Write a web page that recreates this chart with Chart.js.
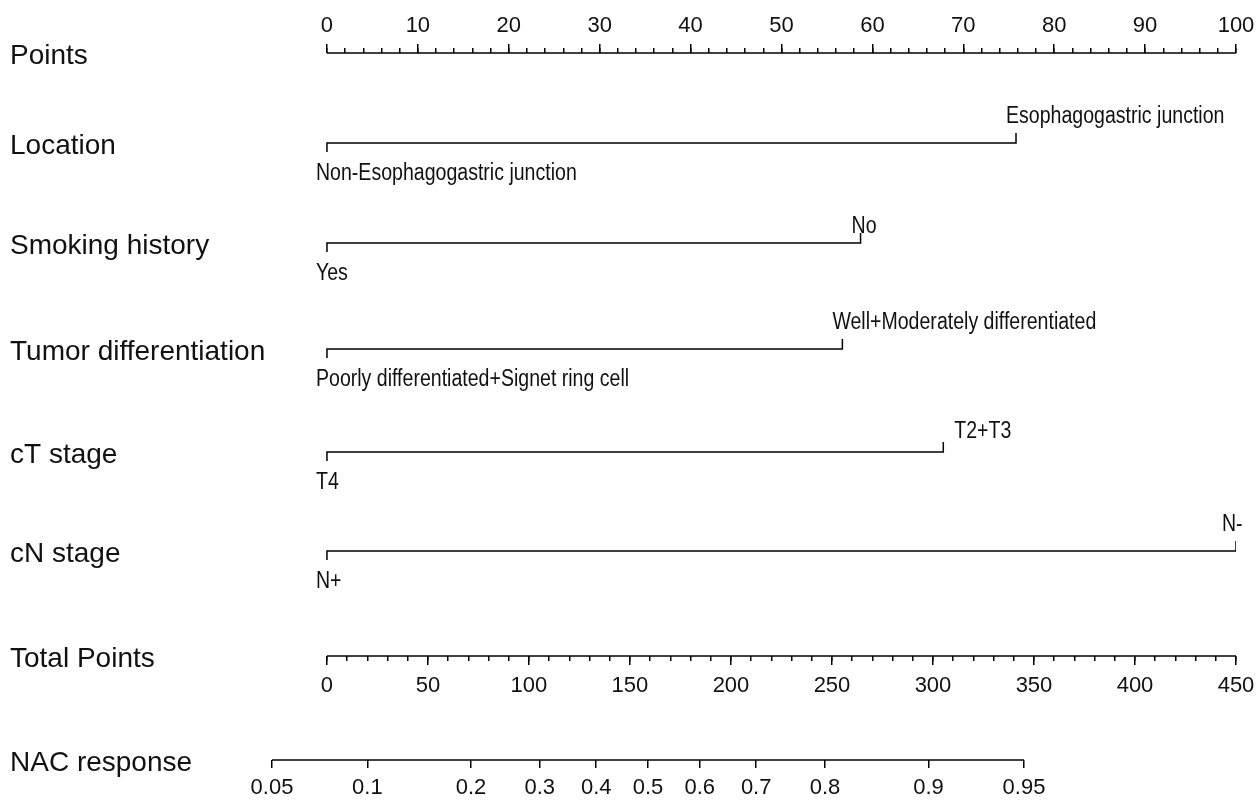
<!DOCTYPE html>
<html>
<head>
<meta charset="utf-8">
<title>Nomogram - NAC response</title>
<script src="https://cdn.jsdelivr.net/npm/chart.js@4.4.1/dist/chart.umd.min.js"></script>
<style>
  html, body { margin: 0; padding: 0; background: #fff; }
  #wrap { width: 1257px; height: 801px; position: relative; }
</style>
</head>
<body>
<div id="wrap"><canvas id="nomo"></canvas></div>
<script>
// axis tick values
const pointsTicks = [0, 10, 20, 30, 40, 50, 60, 70, 80, 90, 100];
const totalTicks = [0, 50, 100, 150, 200, 250, 300, 350, 400, 450];
const nacTicks = [0.05, 0.1, 0.2, 0.3, 0.4, 0.5, 0.6, 0.7, 0.8, 0.9, 0.95];
const pointsMinorStep = 2;
const totalMinorStep = 10;

// predictors and their points
const variables = ["Location", "Smoking history", "Tumor differentiation", "cT stage", "cN stage"];
const lowLevels = ["Non-Esophagogastric junction", "Yes", "Poorly differentiated+Signet ring cell", "T4", "N+"];
const highLevels = ["Esophagogastric junction", "No", "Well+Moderately differentiated", "T2+T3", "N-"];
const lowPoints = [0, 0, 0, 0, 0];
const highPoints = [75.8, 58.7, 56.7, 67.8, 100];

// total points -> linear predictor
const lpIntercept = -2.514;
const lpSlope = 0.01582;
const maxTotal = 450;

// layout
const rowNames = ["Points", ...variables, "Total Points", "NAC response"];
const rowY = [53, 143, 243, 349, 452, 551, 656, 760];
const leftTick = 9, rightTick = 10;
const lowNudge = [-11, 37];
const highNudge = [[-10, -20], [-9, -10], [-10, -20], [11, -14], [-14, -20]];
const FONT = '"Liberation Sans", Arial, sans-serif';

const logit = p => Math.log(p / (1 - p));
const lpOfTotal = t => lpIntercept + lpSlope * t;
const totalOfLp = lp => (lp - lpIntercept) / lpSlope;
const toPts = t => t * 100 / maxTotal;

const nacStart = toPts(totalOfLp(logit(nacTicks[0])));
const nacEnd = toPts(totalOfLp(logit(nacTicks[nacTicks.length - 1])));
const xMin = Math.min(0, nacStart);
const xMax = 100;

function steps(from, to, step) {
  const out = [];
  for (let v = from; v <= to + 1e-9; v += step) out.push(v);
  return out;
}

const lineStyle = { borderColor: "#000", borderWidth: 1.5, pointRadius: 0, fill: false, tension: 0 };

const datasets = [];
// Points axis line
datasets.push({ ...lineStyle, data: [{ x: pointsTicks[0], y: rowY[0] }, { x: pointsTicks[pointsTicks.length - 1], y: rowY[0] }] });
// predictor lines
variables.forEach((v, i) => {
  const r = rowY[i + 1];
  datasets.push({
    ...lineStyle,
    data: [
      { x: lowPoints[i], y: r + leftTick },
      { x: lowPoints[i], y: r },
      { x: highPoints[i], y: r },
      { x: highPoints[i], y: r - rightTick }
    ]
  });
});
// Total points axis line
datasets.push({ ...lineStyle, data: [{ x: toPts(totalTicks[0]), y: rowY[6] }, { x: toPts(totalTicks[totalTicks.length - 1]), y: rowY[6] }] });
// NAC response axis line
datasets.push({ ...lineStyle, data: [{ x: nacStart, y: rowY[7] }, { x: nacEnd, y: rowY[7] }] });

// one positioned x axis drawing tick marks (and labels) for a nomogram row
function rowAxis(row, min, max, values, tickLength, padding, labels) {
  return {
    type: "linear",
    axis: "x",
    position: { y: rowY[row] },
    min: min,
    max: max,
    bounds: "data",
    afterBuildTicks: s => { s.ticks = values.map(v => ({ value: v })); },
    afterFit: s => { s.paddingLeft = 0; s.paddingRight = 0; },
    border: { display: false },
    grid: { drawOnChartArea: false, drawTicks: true, tickLength: tickLength, color: "#000", lineWidth: 1.5 },
    ticks: {
      display: !!labels,
      autoSkip: false,
      maxRotation: 0,
      minRotation: 0,
      padding: padding,
      color: "#111",
      font: { family: FONT, size: 22, lineHeight: 1 },
      callback: (v, i) => labels ? labels[i] : ""
    }
  };
}

const levelLabels = {
  id: "levelLabels",
  afterDatasetsDraw(chart) {
    const { ctx, scales: { x, y } } = chart;
    const put = (text, px, py) => {
      ctx.save();
      ctx.translate(px, py);
      ctx.scale(0.85, 1);
      ctx.fillText(text, 0, 0);
      ctx.restore();
    };
    ctx.save();
    ctx.fillStyle = "#111";
    ctx.font = "23px " + FONT;
    ctx.textAlign = "left";
    ctx.textBaseline = "alphabetic";
    variables.forEach((v, i) => {
      const r = y.getPixelForValue(rowY[i + 1]);
      put(lowLevels[i], x.getPixelForValue(lowPoints[i]) + lowNudge[0], r + lowNudge[1]);
      put(highLevels[i], x.getPixelForValue(highPoints[i]) + highNudge[i][0], r + highNudge[i][1]);
    });
    ctx.restore();
  }
};

new Chart(document.getElementById("nomo"), {
  type: "line",
  data: { datasets: datasets },
  plugins: [levelLabels],
  options: {
    responsive: true,
    maintainAspectRatio: false,
    animation: false,
    events: [],
    layout: { padding: { left: 10, right: 21, top: 0, bottom: 0 } },
    plugins: { legend: { display: false }, tooltip: { enabled: false } },
    scales: {
      x: { type: "linear", display: false, min: xMin, max: xMax, bounds: "data" },
      y: {
        type: "linear",
        reverse: true,
        min: 0,
        max: 801,
        bounds: "data",
        afterBuildTicks: s => { s.ticks = rowY.map(v => ({ value: v })); },
        afterFit: s => { s.width = 262; s.paddingTop = 0; s.paddingBottom = 0; },
        grid: { display: false },
        border: { display: false },
        ticks: {
          crossAlign: "far",
          padding: 0,
          labelOffset: 3,
          autoSkip: false,
          color: "#111",
          font: { family: FONT, size: 28 },
          callback: (v, i) => rowNames[i]
        }
      },
      xPts: rowAxis(0, xMin, xMax, pointsTicks, -9, -29, pointsTicks.map(String)),
      xPtsMinor: rowAxis(0, xMin, xMax, steps(0, 100, pointsMinorStep), -5, 0, null),
      xTot: rowAxis(6, xMin * maxTotal / 100, maxTotal, totalTicks, 9, 10, totalTicks.map(String)),
      xTotMinor: rowAxis(6, xMin * maxTotal / 100, maxTotal, steps(0, maxTotal, totalMinorStep), 5, 0, null),
      xNac: rowAxis(7, lpOfTotal(xMin * maxTotal / 100), lpOfTotal(maxTotal), nacTicks.map(logit), 8, 9, nacTicks.map(String))
    }
  }
});
</script>
</body>
</html>
